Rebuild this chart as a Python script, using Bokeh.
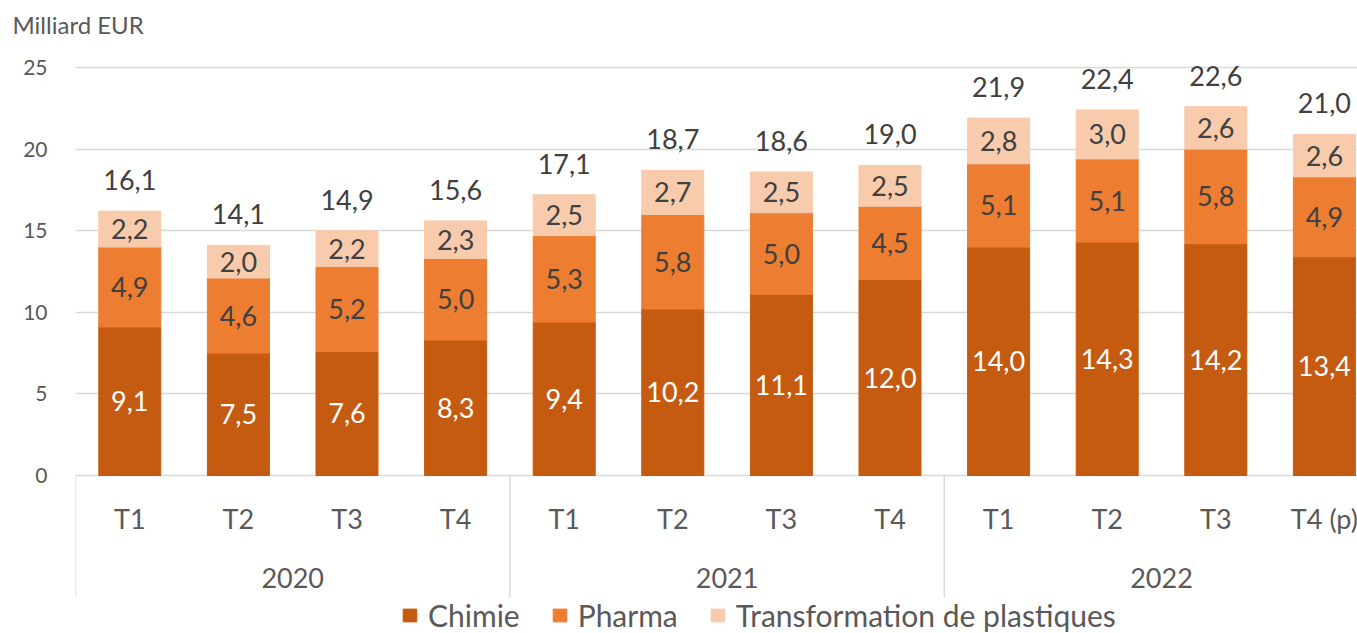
from bokeh.plotting import figure
from bokeh.models import ColumnDataSource, FixedTicker, Range1d
from bokeh.core.properties import value
from bokeh.embed import file_html
from bokeh.resources import INLINE

quarters = ["T1", "T2", "T3", "T4", "T1", "T2", "T3", "T4", "T1", "T2", "T3", "T4 (p)"]
years = ["2020", "2021", "2022"]
chimie = [9.1, 7.5, 7.6, 8.3, 9.4, 10.2, 11.1, 12.0, 14.0, 14.3, 14.2, 13.4]
pharma = [4.9, 4.6, 5.2, 5.0, 5.3, 5.8, 5.0, 4.5, 5.1, 5.1, 5.8, 4.9]
plast = [2.2, 2.0, 2.2, 2.3, 2.5, 2.7, 2.5, 2.5, 2.8, 3.0, 2.6, 2.6]
totals = [16.1, 14.1, 14.9, 15.6, 17.1, 18.7, 18.6, 19.0, 21.9, 22.4, 22.6, 21.0]
series = ["Chimie", "Pharma", "Transformation de plastiques"]
colors = ["#C55A11", "#ED7D31", "#F8CBAD"]

FONT = value("Lato")
PX_PER_UNIT = 16.32
FRAME_W = 1282
FRAME_H = 588
TOP_PX = 430.0  # pixels above zero inside frame
y_end = TOP_PX / PX_PER_UNIT
y_start = -(FRAME_H - TOP_PX) / PX_PER_UNIT
x_end = FRAME_W / 108.6


def fmt(v):
    return f"{v:.1f}".replace(".", ",")


n = len(chimie)
xs = [i + 0.5 for i in range(n)]
src = ColumnDataSource(dict(x=xs, Chimie=chimie, Pharma=pharma, Plast=plast))

p = figure(frame_width=FRAME_W, frame_height=FRAME_H,
           x_range=Range1d(0, x_end), y_range=Range1d(y_start, y_end),
           output_backend="svg", toolbar_location=None, x_axis_location=None,
           min_border_left=75, min_border_right=0, min_border_top=0, min_border_bottom=0,
           title="Milliard EUR")
p.title.text_font = "Lato"
p.title.text_font_size = "24px"
p.title.text_font_style = "normal"
p.title.text_color = "#595959"
p.title.align = "left"
p.title.offset = -63
p.title.standoff = 14
p.outline_line_color = None
p.background_fill_color = "white"
p.border_fill_color = "white"

p.xgrid.grid_line_color = None
p.ygrid.ticker = FixedTicker(ticks=[0, 5, 10, 15, 20, 25])
p.ygrid.grid_line_color = "#D9D9D9"
p.ygrid.grid_line_width = 1.5
p.yaxis.ticker = FixedTicker(ticks=[0, 5, 10, 15, 20, 25])
p.yaxis.axis_line_color = None
p.yaxis.major_tick_line_color = None
p.yaxis.minor_tick_line_color = None
p.yaxis.major_label_text_font = "Lato"
p.yaxis.major_label_text_font_size = "21px"
p.yaxis.major_label_text_color = "#595959"
p.yaxis.major_label_standoff = 22

p.vbar_stack(["Chimie", "Pharma", "Plast"], x="x", width=0.571, source=src,
             color=colors, legend_label=series)

# separators of the year groups
p.segment(x0=[0, 4, 8], y0=[0, 0, 0], x1=[0, 4, 8], y1=[-7.48] * 3,
          line_color="#D9D9D9", line_width=1.5)

# segment labels
c_mid = [c / 2 for c in chimie]
p_mid = [c + ph / 2 for c, ph in zip(chimie, pharma)]
t_mid = [c + ph + t / 2 for c, ph, t in zip(chimie, pharma, plast)]
tops = [c + ph + t for c, ph, t in zip(chimie, pharma, plast)]
common = dict(text_font=FONT, text_font_size=value("27px"), text_align="center",
              text_baseline="middle")
p.text(x=xs, y=c_mid, text=[fmt(v) for v in chimie], text_color="white", **common)
p.text(x=xs, y=p_mid, text=[fmt(v) for v in pharma], text_color="#404040", **common)
p.text(x=xs, y=t_mid, text=[fmt(v) for v in plast], text_color="#404040", **common)
p.text(x=xs, y=tops, text=[fmt(v) for v in totals], text_color="#404040",
       y_offset=-31, **common)

# category labels
p.text(x=xs, y=[-2.63] * n, text=quarters, text_color="#595959", **common)
p.text(x=[2, 6, 10], y=[-6.31] * 3, text=years, text_color="#595959", **common)

lg = p.legend[0]
lg.orientation = "horizontal"
lg.location = (326, 0)
lg.border_line_color = None
lg.background_fill_alpha = 0
lg.label_text_font = "Lato"
lg.label_text_font_size = "30px"
lg.label_text_color = "#595959"
lg.glyph_width = 17
lg.glyph_height = 16
lg.label_standoff = 10
lg.spacing = 31
lg.padding = 0
lg.margin = 0

open("out.html", "w").write(file_html(p, INLINE))
